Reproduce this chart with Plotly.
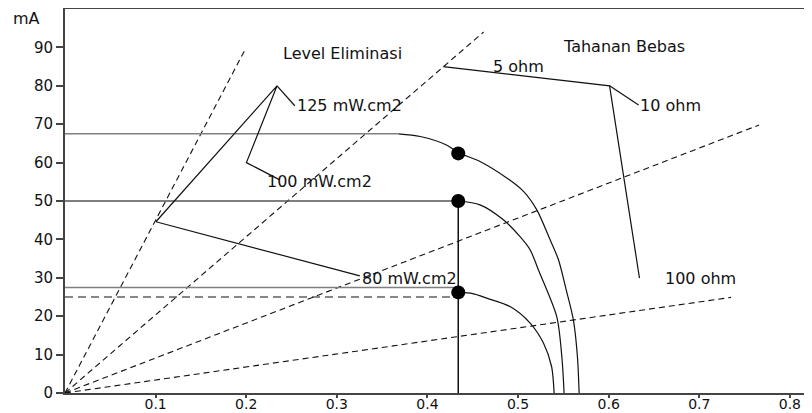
import plotly.graph_objects as go

# Dashed rays from the origin (end points)
ray_end_x = [0.200, 0.462, 0.766, 0.735]
ray_end_y = [90.0, 94.0, 69.8, 24.9]

# Horizontal reference levels (mA) and their end x
level_y = [67.5, 50.0, 27.5]
level_end_x = [0.368, 0.434, 0.434]
level_color = ["#808080", "#555555", "#808080"]

# Dashed level
dash_level_y = 25.0
vertical_x = 0.434

# I-V curves
curve1_x = [0.368, 0.392, 0.421, 0.434, 0.458, 0.4875, 0.506, 0.5207, 0.5354, 0.5446, 0.553, 0.561, 0.5655, 0.5674]
curve1_y = [67.5, 66.8, 64.6, 62.6, 60.3, 56.0, 52.5, 47.7, 39.9, 34.7, 27.0, 19.1, 9.5, 0.0]
curve2_x = [0.434, 0.458, 0.4838, 0.5022, 0.5133, 0.5224, 0.5427, 0.5483, 0.5508]
curve2_y = [50.0, 49.0, 45.1, 40.7, 37.3, 32.1, 19.9, 9.5, 0.0]
curve3_x = [0.434, 0.450, 0.4654, 0.4912, 0.5133, 0.528, 0.537, 0.5398]
curve3_y = [26.2, 25.9, 24.7, 22.5, 18.2, 13.0, 6.9, 0.0]

# Operating points
dot_x = [0.434, 0.434, 0.434]
dot_y = [62.4, 50.0, 26.2]

# Leader lines
lead_power_x = [0.1003, 0.234, 0.2002, 0.237]
lead_power_y = [44.6, 80.0, 60.0, 55.5]
lead_125_x = [0.234, 0.2536]
lead_125_y = [80.0, 74.8]
lead_80_x = [0.1003, 0.3254]
lead_80_y = [44.6, 30.5]
lead_ohm_x = [0.4175, 0.601, 0.634]
lead_ohm_y = [85.0, 80.0, 29.9]
lead_10_x = [0.601, 0.633]
lead_10_y = [80.0, 75.0]

# Text labels
label_text = ["Level Eliminasi", "125 mW.cm2", "100 mW.cm2", "80 mW.cm2",
              "Tahanan Bebas", "5 ohm", "10 ohm", "100 ohm"]
label_x = [0.3066, 0.2536, 0.2205, 0.3252, 0.6164, 0.4706, 0.632, 0.660]
label_y = [88.5, 74.8, 55.0, 29.9, 90.2, 85.0, 75.0, 29.7]
label_anchor = ["center", "left", "left", "left", "center", "left", "left", "left"]

y_ticks = [0, 10, 20, 30, 40, 50, 60, 70, 80, 90]
x_ticks = [0.1, 0.2, 0.3, 0.4, 0.5, 0.6, 0.7, 0.8]
x_max = 0.8244

FONT = "DejaVu Sans"
fig = go.Figure()

def line(xs, ys, color="#111111", width=1.2, dash=None):
    fig.add_trace(go.Scatter(x=xs, y=ys, mode="lines",
                             line=dict(color=color, width=width, dash=dash),
                             hoverinfo="skip", showlegend=False))

for ex, ey in zip(ray_end_x, ray_end_y):
    line([0, ex], [0, ey], dash="6px,4px", width=1.1)

for ly, lx, lc in zip(level_y, level_end_x, level_color):
    line([0, lx], [ly, ly], color=lc, width=1.5)

line([0, vertical_x], [dash_level_y, dash_level_y], dash="8px,5px", width=1.1)
line([vertical_x, vertical_x], [0, level_y[1]], width=1.5)

for cx, cy in [(curve1_x, curve1_y), (curve2_x, curve2_y), (curve3_x, curve3_y)]:
    fig.add_trace(go.Scatter(x=cx, y=cy, mode="lines",
                             line=dict(color="#111111", width=1.2, shape="spline", smoothing=0.8),
                             hoverinfo="skip", showlegend=False))

for lx, ly in [(lead_power_x, lead_power_y), (lead_125_x, lead_125_y), (lead_80_x, lead_80_y),
               (lead_ohm_x, lead_ohm_y), (lead_10_x, lead_10_y)]:
    line(lx, ly, width=1.2)

fig.add_trace(go.Scatter(x=dot_x, y=dot_y, mode="markers",
                         marker=dict(color="black", size=14, line=dict(width=0)),
                         hoverinfo="skip", showlegend=False))

for t, x, y, a in zip(label_text, label_x, label_y, label_anchor):
    fig.add_annotation(x=x, y=y, text=t, showarrow=False, xanchor=a, yanchor="middle",
                       font=dict(family=FONT, size=16, color="#111111"))

fig.add_annotation(xref="paper", yref="y", x=-0.042 / x_max, y=97.6, text="mA", showarrow=False,
                   xanchor="center", yanchor="middle",
                   font=dict(family=FONT, size=16, color="#111111"))

# The page body has an 8px default margin, so the figure is sized/placed to compensate.
fig.update_layout(
    width=804, height=405,
    margin=dict(l=57, r=0, t=1, b=20, autoexpand=False),
    paper_bgcolor="white", plot_bgcolor="white",
    font=dict(family=FONT, size=15, color="#111111"),
    xaxis=dict(range=[0, x_max], tickvals=x_ticks, ticktext=[str(v) for v in x_ticks],
               automargin=False,
               showgrid=False, zeroline=False, showline=True, linecolor="#444444", linewidth=2,
               mirror=True, ticks="outside", ticklen=3, tickcolor="#444444", tickwidth=1.5,
               ticklabelstandoff=-6,
               tickfont=dict(family=FONT, size=14, color="#111111")),
    yaxis=dict(range=[0, 100], tickvals=y_ticks, ticktext=[str(v) for v in y_ticks],
               automargin=False,
               showgrid=False, zeroline=False, showline=True, linecolor="#444444", linewidth=2,
               ticks="outside", ticklen=7, tickcolor="#444444", tickwidth=1.5,
               tickfont=dict(family=FONT, size=15, color="#111111")),
)

fig.write_html("out.html")
